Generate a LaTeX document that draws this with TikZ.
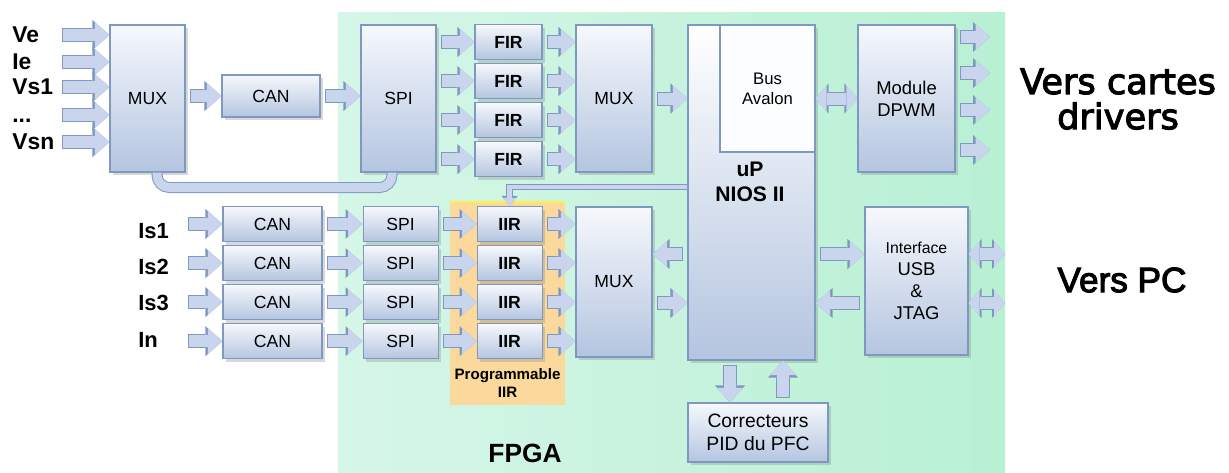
\documentclass[tikz,border=0pt]{standalone}
\usepackage{fontspec}
\setmainfont{Liberation Sans}
\newfontfamily\dvsans[FakeBold=3]{DejaVu Sans}
\newfontfamily\heavysans[FakeBold=3]{Liberation Sans}
\usepackage{tikz}
\usetikzlibrary{arrows.meta,positioning,shadows}

\definecolor{boxtop}{RGB}{246,248,252}
\definecolor{boxbot}{RGB}{180,197,224}
\definecolor{boxline}{RGB}{126,152,192}
\definecolor{pipefill}{RGB}{200,213,236}
\definecolor{pipeline}{RGB}{128,152,192}
\definecolor{fpgaleft}{RGB}{214,246,232}
\definecolor{fpgaright}{RGB}{184,240,212}
\definecolor{progfill}{RGB}{251,216,156}
\definecolor{progtop}{RGB}{255,240,70}

\begin{document}
\begin{tikzpicture}[
  x=0.2mm, y=-0.2mm,
  blk/.style={draw=boxline,line width=0.6pt,top color=boxtop,bottom color=boxbot,
    drop shadow={shadow xshift=0.5mm,shadow yshift=-0.6mm,opacity=0.3},
    align=center,inner sep=1pt,font=\fontsize{10}{12}\selectfont},
  tall/.style={minimum width=15mm,minimum height=29.4mm},
  row/.style={minimum height=7mm},
  filt/.style={blk,row,minimum width=13.4mm,font=\bfseries\fontsize{10}{12}\selectfont},
  lab/.style={anchor=west,inner sep=0pt,text width=9mm,text height=9pt,text depth=0pt,
    font=\bfseries\fontsize{13}{13}\selectfont},
  fat/.style={line width=2.4mm,draw=pipefill,shorten <=1mm,
    -{Triangle[length=2.9mm,width=5.2mm,line width=0pt]},
    preaction={draw=pipeline,line width=2.8mm,shorten <=0.8mm,
      -{Triangle[length=3.4mm,width=6mm,line width=0pt]}}},
  dfat/.style={line width=2.4mm,draw=pipefill,
    {Triangle[length=2.2mm,width=5.2mm,line width=0pt]}-{Triangle[length=2.2mm,width=5.2mm,line width=0pt]},
    preaction={draw=pipeline,line width=2.8mm,
      {Triangle[length=2.6mm,width=6mm,line width=0pt]}-{Triangle[length=2.6mm,width=6mm,line width=0pt]}}},
  bus/.style={line width=1.8mm,draw=pipefill,rounded corners=2.5mm,
    preaction={draw=pipeline,line width=2.2mm}},
  thinpipe/.style={line width=0.9mm,draw=pipefill,
    -{Triangle[length=1.6mm,width=2.6mm,line width=0pt]},
    preaction={draw=pipeline,line width=1.3mm,-{Triangle[length=2mm,width=3.2mm,line width=0pt]}}}
]
\fill[white] (0,0) rectangle (1229,472);
\useasboundingbox (0,0) rectangle (1229,472);
% FPGA area and IIR zone
\shade[left color=fpgaleft,right color=fpgaright] (338,12) rectangle (1005,472);
\fill[progfill] (450,202) rectangle (565,405);
\draw[progtop,line width=1pt] (450,202) -- (565,202);

% voltage inputs
\node[lab] (ve) at (12,35) {Ve};
\node[lab] (ie) at (12,62) {Ie};
\node[lab] (vs1) at (12,87) {Vs1};
\node[lab] (vdots) at (12,115) {...};
\node[lab] (vsn) at (12,142) {Vsn};

\node[blk,tall] (mux1) at (147.5,98.5) {MUX};
\node[blk,minimum width=19.6mm,minimum height=8.4mm] (can0) at (271,96) {CAN};
\node[blk,tall] (spi0) at (398.5,98.5) {SPI};
\node[filt] (fir1) at (508.5,42) {FIR};
\node[filt,below=0.6mm of fir1] (fir2) {FIR};
\node[filt,below=0.6mm of fir2] (fir3) {FIR};
\node[filt,below=0.6mm of fir3] (fir4) {FIR};
\node[blk,tall,minimum width=15.2mm] (mux2) at (614,98.5) {MUX};

% processor
\node[blk,minimum width=25.4mm,minimum height=67mm,top color=white] (nios) at (751.5,192.5) {};
\node[draw=boxline,line width=0.6pt,fill=white!70!boxtop,minimum width=19mm,minimum height=25.4mm,
  align=center,font=\fontsize{9.5}{11.5}\selectfont] (avalon) at (767.5,88.5) {Bus\\Avalon};
\node[font=\bfseries\fontsize{12}{14}\selectfont,align=center] (niostxt) at (750,182) {uP\\NIOS II};
\node[blk,tall,minimum width=19.4mm,font=\fontsize{10.5}{12.5}\selectfont] (dpwm) at (906.5,98.5) {Module\\DPWM};
\node[font=\dvsans\fontsize{20}{20}\selectfont,align=center] (drivers) at (1118,99) {Vers cartes\\drivers};

% current inputs
\node[lab,font=\bfseries\fontsize{12.5}{13}\selectfont] (is1) at (138,231) {Is1};
\node[lab,font=\bfseries\fontsize{12.5}{13}\selectfont] (is2) at (138,267) {Is2};
\node[lab,font=\bfseries\fontsize{12.5}{13}\selectfont] (is3) at (138,303) {Is3};
\node[lab,font=\bfseries\fontsize{12.5}{13}\selectfont] (in) at (138,340) {In};

\node[blk,row,minimum width=19.8mm] (canI1) at (272.5,224) {CAN};
\node[blk,row,minimum width=19.8mm,below=0.6mm of canI1] (canI2) {CAN};
\node[blk,row,minimum width=19.8mm,below=0.6mm of canI2] (canI3) {CAN};
\node[blk,row,minimum width=19.8mm,below=0.6mm of canI3] (canI4) {CAN};
\node[blk,row,minimum width=15mm,right=8mm of canI1] (spiI1) {SPI};
\node[blk,row,minimum width=15mm,right=8mm of canI2] (spiI2) {SPI};
\node[blk,row,minimum width=15mm,right=8mm of canI3] (spiI3) {SPI};
\node[blk,row,minimum width=15mm,right=8mm of canI4] (spiI4) {SPI};
\node[filt,minimum width=13mm,right=7.6mm of spiI1] (iir1) {IIR};
\node[filt,minimum width=13mm,right=7.6mm of spiI2] (iir2) {IIR};
\node[filt,minimum width=13mm,right=7.6mm of spiI3] (iir3) {IIR};
\node[filt,minimum width=13mm,right=7.6mm of spiI4] (iir4) {IIR};
\node[font=\bfseries\fontsize{8.6}{10}\selectfont,align=center] (progtxt) at (507.5,383) {Programmable\\IIR};
\node[blk,minimum width=15.2mm,minimum height=30mm] (mux3) at (614,282) {MUX};

\node[blk,minimum width=20.6mm,minimum height=29.6mm,font=\fontsize{10.5}{12.5}\selectfont] (iface) at (916.5,281)
  {{\fontsize{9}{11}\selectfont Interface}\\USB\\\&\\JTAG};
\node[font=\heavysans\fontsize{20}{24}\selectfont] (pc) at (1122,280) {Vers PC};
\node[blk,minimum width=28mm,minimum height=11.8mm,font=\fontsize{11}{13}\selectfont] (corr) at (758,432.5) {Correcteurs\\PID du PFC};
\node[font=\bfseries\fontsize{15}{18}\selectfont] (fpga) at (525,453) {FPGA};

\coordinate (out1) at (990,37);
\coordinate (out2) at (990,73);
\coordinate (out3) at (990,110);
\coordinate (out4) at (990,150);
\coordinate (lvlA) at (0,254);
\coordinate (lvlB) at (0,303);
\coordinate (pc1) at (1005,254);
\coordinate (pc2) at (1005,303);
\coordinate (fb) at (0,187);

% upper chain
\draw[fat] (ve) -- (mux1.west |- ve);
\draw[fat] (ie) -- (mux1.west |- ie);
\draw[fat] (vs1) -- (mux1.west |- vs1);
\draw[fat] (vdots) -- (mux1.west |- vdots);
\draw[fat] (vsn) -- (mux1.west |- vsn);
\draw[fat] (mux1.east |- can0) -- (can0);
\draw[fat] (can0) -- (spi0.west |- can0);
\draw[bus] ([xshift=1.9mm]mux1.south) -- ++(0,15) -| ([xshift=-1.3mm]spi0.south);
\draw[fat] (spi0.east |- fir1) -- (fir1);
\draw[fat] (spi0.east |- fir2) -- (fir2);
\draw[fat] (spi0.east |- fir3) -- (fir3);
\draw[fat] (spi0.east |- fir4) -- (fir4);
\draw[fat] (fir1) -- (mux2.west |- fir1);
\draw[fat] (fir2) -- (mux2.west |- fir2);
\draw[fat] (fir3) -- (mux2.west |- fir3);
\draw[fat] (fir4) -- (mux2.west |- fir4);
\draw[fat] (mux2) -- (mux2 -| nios.west);
\draw[dfat] (dpwm -| nios.east) -- (dpwm);
\draw[fat] (dpwm.east |- out1) -- (out1);
\draw[fat] (dpwm.east |- out2) -- (out2);
\draw[fat] (dpwm.east |- out3) -- (out3);
\draw[fat] (dpwm.east |- out4) -- (out4);

% lower chain
\draw[thinpipe] (nios.west |- fb) -| (iir1);
\draw[fat] (is1.east |- canI1) -- (canI1);
\draw[fat] (is2.east |- canI2) -- (canI2);
\draw[fat] (is3.east |- canI3) -- (canI3);
\draw[fat] (in.east |- canI4) -- (canI4);
\draw[fat] (canI1) -- (spiI1);
\draw[fat] (canI2) -- (spiI2);
\draw[fat] (canI3) -- (spiI3);
\draw[fat] (canI4) -- (spiI4);
\draw[fat] (spiI1) -- (iir1);
\draw[fat] (spiI2) -- (iir2);
\draw[fat] (spiI3) -- (iir3);
\draw[fat] (spiI4) -- (iir4);
\draw[fat] (iir1) -- (mux3.west |- iir1);
\draw[fat] (iir2) -- (mux3.west |- iir2);
\draw[fat] (iir3) -- (mux3.west |- iir3);
\draw[fat] (iir4) -- (mux3.west |- iir4);
\draw[fat] (nios.west |- lvlA) -- (mux3.east |- lvlA);
\draw[fat] (mux3.east |- lvlB) -- (nios.west |- lvlB);
\draw[fat] (nios.east |- lvlA) -- (iface.west |- lvlA);
\draw[fat] (iface.west |- lvlB) -- (nios.east |- lvlB);
\draw[dfat] (iface.east |- pc1) -- (pc1);
\draw[dfat] (iface.east |- pc2) -- (pc2);
\draw[fat] ([xshift=-4.3mm]nios.south) -- ([xshift=-4.3mm]nios.south |- corr.north);
\draw[fat] ([xshift=6.3mm]nios.south |- corr.north) -- ([xshift=6.3mm]nios.south);
\end{tikzpicture}
\end{document}
